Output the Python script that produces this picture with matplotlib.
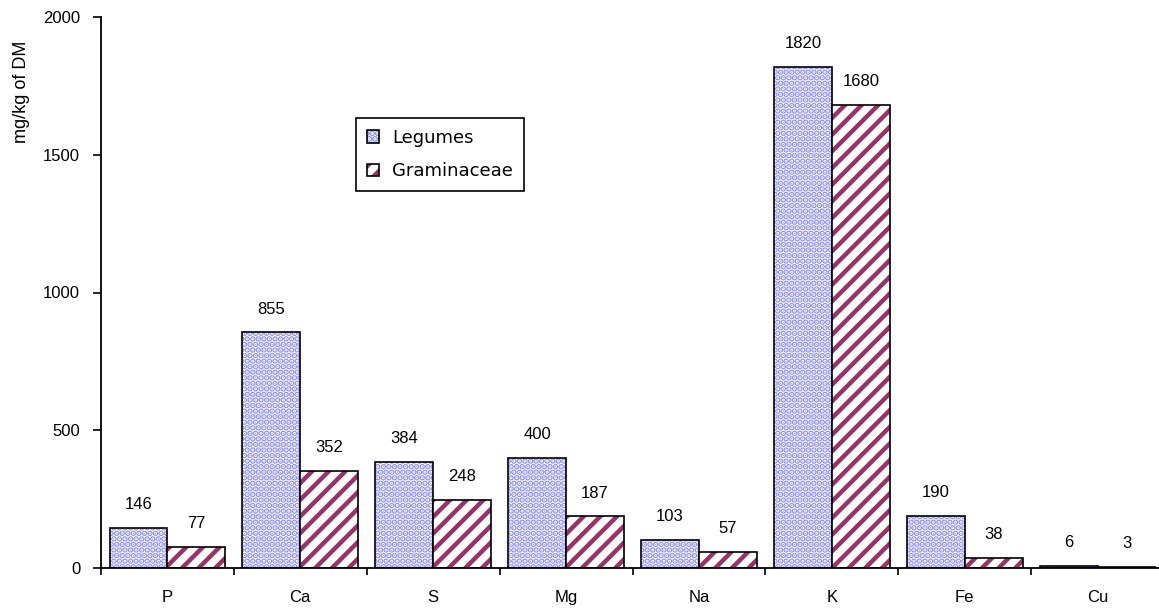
import matplotlib.pyplot as plt
import numpy as np

elements = ['P', 'Ca', 'S', 'Mg', 'Na', 'K', 'Fe', 'Cu']
legumes = [146, 855, 384, 400, 103, 1820, 190, 6]
graminaceae = [77, 352, 248, 187, 57, 1680, 38, 3]
y_ticks = [0, 500, 1000, 1500, 2000]

fig = plt.figure(figsize=(11.59, 6.15), dpi=100)
ax = fig.add_axes([101 / 1159, 47 / 615, 1063 / 1159, 551 / 615])

x = np.arange(len(elements))
w = 0.436

# dotted fill for legumes, striped fill for graminaceae
plt.rcParams['hatch.linewidth'] = 3.0
b1 = ax.bar(x - w / 2, legumes, w, facecolor='white', edgecolor='black',
            linewidth=1.2, hatch='...', label='Legumes')
for p in b1:
    p._hatch_color = (0.55, 0.55, 1.0, 1.0)
plt.rcParams['hatch.linewidth'] = 3.2
b2 = ax.bar(x + w / 2, graminaceae, w, facecolor='white', edgecolor='black',
            linewidth=1.2, hatch='//', label='Graminaceae')
for p in b2:
    p._hatch_color = (0.6, 0.2, 0.4, 1.0)

# value labels above the bars
for xi, v in zip(x - w / 2, legumes):
    ax.text(xi, v + 85, str(v), ha='center', va='center', fontsize=12,
            family='Liberation Sans')
for xi, v in zip(x + w / 2, graminaceae):
    ax.text(xi, v + 85, str(v), ha='center', va='center', fontsize=12,
            family='Liberation Sans')

ax.set_xlim(-0.5, len(elements) - 0.5)
ax.set_ylim(0, 2000)
ax.set_yticks(y_ticks)
ax.set_yticklabels([str(t) for t in y_ticks], family='Liberation Sans', fontsize=12)
ax.set_xticks(x)
ax.set_xticklabels(elements, family='Liberation Sans', fontsize=12)
ax.set_xticks(np.arange(len(elements) + 1) - 0.5, minor=True)
ax.tick_params(axis='x', which='major', length=0, pad=16)
ax.tick_params(axis='x', which='minor', length=5, width=1.2, direction='out')
ax.tick_params(axis='y', length=6, width=1.2, direction='out', pad=9)

for s in ['top', 'right']:
    ax.spines[s].set_visible(False)
for s in ['left', 'bottom']:
    ax.spines[s].set_linewidth(1.3)

fig.text(22 / 1159, 1 - 92 / 615, 'mg/kg of DM', rotation=90, ha='center',
         va='center', fontsize=13, family='Liberation Sans')

leg = ax.legend(loc='upper left', bbox_to_anchor=(356 / 1159, 1 - 118 / 615),
                bbox_transform=fig.transFigure, fancybox=False, shadow=False,
                edgecolor='black', framealpha=1, handlelength=0.7,
                handleheight=0.7, borderpad=0.6, labelspacing=0.85,
                handletextpad=0.7, borderaxespad=0,
                prop={'family': 'DejaVu Sans', 'size': 13})
leg.get_frame().set_linewidth(1.2)

fig.savefig('out.png', dpi=100)
